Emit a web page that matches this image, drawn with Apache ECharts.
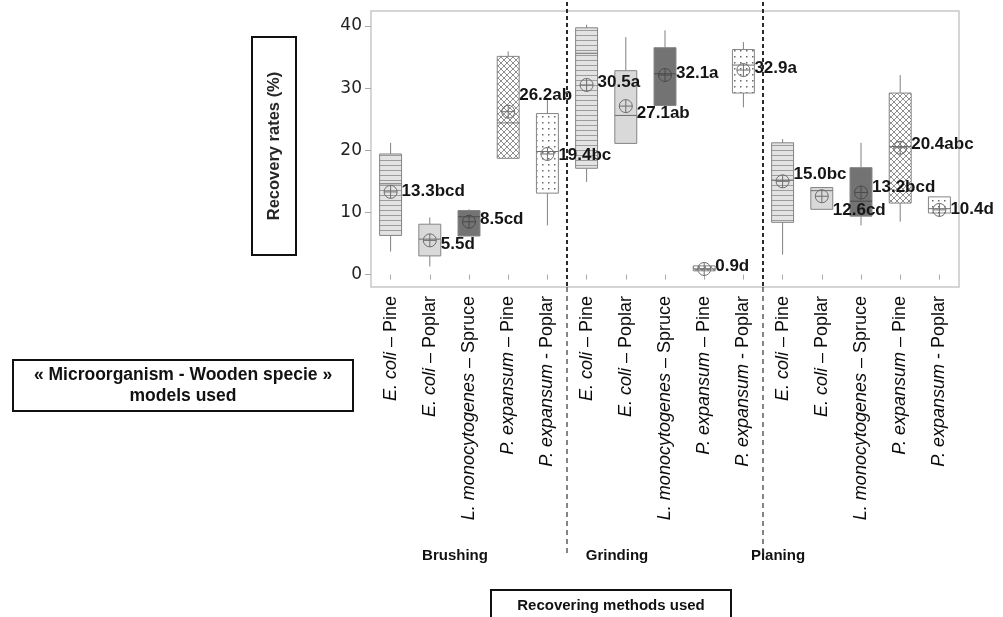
<!DOCTYPE html>
<html><head><meta charset="utf-8">
<script src="https://cdn.jsdelivr.net/npm/echarts@6/dist/echarts.min.js"></script>
<style>html,body{margin:0;padding:0;background:#fff}#c{width:1003px;height:617px}</style>
</head><body><div id="c"></div>
<script>
// ---------- data ----------
const methods = ['Brushing', 'Grinding', 'Planing'];
const microbes = ['E. coli', 'E. coli', 'L. monocytogenes', 'P. expansum', 'P. expansum'];
const woods = ['– Pine', '– Poplar', '– Spruce', '– Pine', '- Poplar'];
const whiskerLow  = [3.7, 1.3, 6.2, 18.7, 7.9,   14.9, 21.1, 27.0, 0.6, 26.9,   3.2, 10.5, 7.9, 8.5, 9.3];
const q1          = [6.3, 3.0, 6.2, 18.7, 13.1,  17.1, 21.1, 27.2, 0.6, 29.2,   8.4, 10.5, 9.4, 11.5, 9.9];
const median      = [14.6, 5.7, 9.3, 24.4, 19.8, 35.6, 25.6, 32.3, 0.9, 33.7,   15.2, 13.5, 11.8, 20.6, 10.6];
const q3          = [19.4, 8.1, 10.3, 35.1, 25.9, 39.7, 32.8, 36.5, 1.4, 36.2,  21.2, 14.0, 17.2, 29.2, 12.5];
const whiskerHigh = [21.2, 9.2, 10.5, 35.9, 28.1, 40.2, 38.2, 39.3, 1.4, 37.4,  21.8, 14.0, 21.2, 32.1, 12.5];
const means       = [13.3, 5.5, 8.5, 26.2, 19.4, 30.5, 27.1, 32.1, 0.9, 32.9,   15.0, 12.6, 13.2, 20.4, 10.4];
const letters     = ['bcd', 'd', 'cd', 'ab', 'bc', 'a', 'ab', 'a', 'd', 'a', 'bc', 'cd', 'bcd', 'abc', 'd'];
const yTicks = [0, 10, 20, 30, 40];

// ---------- styling helpers ----------
const labelShift = [-1, 4, -2, -16, 1, -3, 7, -2, -3, -2, -7, 14, -5, -3, -1];

function makeCanvas(w, h, draw) {
  const c = document.createElement('canvas');
  c.width = w; c.height = h;
  draw(c.getContext('2d'));
  return c;
}
const stripes = makeCanvas(4, 5, g => {
  g.fillStyle = '#e3e3e3'; g.fillRect(0, 0, 4, 5);
  g.fillStyle = '#9c9c9c'; g.fillRect(0, 0, 4, 1);
});
const cross = makeCanvas(6, 6, g => {
  g.fillStyle = '#ffffff'; g.fillRect(0, 0, 6, 6);
  g.strokeStyle = '#8e8e8e'; g.lineWidth = 1;
  g.beginPath(); g.moveTo(0, 0); g.lineTo(6, 6); g.moveTo(6, 0); g.lineTo(0, 6); g.stroke();
});
const dots = makeCanvas(6, 6, g => {
  g.fillStyle = '#ffffff'; g.fillRect(0, 0, 6, 6);
  g.fillStyle = '#6a6a6a'; g.fillRect(2, 2, 1.5, 1.5);
});
const fills = [
  { image: stripes, repeat: 'repeat' },
  '#d9d9d9',
  '#737373',
  { image: cross, repeat: 'repeat' },
  { image: dots, repeat: 'repeat' }
];

const categories = [];
methods.forEach(m => microbes.forEach((mi, j) => categories.push(m + '|' + j)));

const seriesData = categories.map((c, i) =>
  [i, whiskerLow[i], q1[i], median[i], q3[i], whiskerHigh[i], means[i]]);
const labelData = categories.map((c, i) => [i, means[i]]);

function renderBox(params, api) {
  const i = api.value(0);
  const x = api.coord([i, 0])[0];
  const Y = v => api.coord([i, v])[1];
  const bw = api.size([1, 0])[0] * 0.56;
  const yLo = Y(api.value(1)), yQ1 = Y(api.value(2)), yMed = Y(api.value(3));
  const yQ3 = Y(api.value(4)), yHi = Y(api.value(5)), yMean = Y(api.value(6));
  const j = i % 5;
  const r = 6.5;
  const sc = j === 2 ? '#4a4a4a' : '#6e6e6e';
  return {
    type: 'group',
    children: [
      { type: 'line', shape: { x1: x, y1: yHi, x2: x, y2: yQ3 }, style: { stroke: '#808080', lineWidth: 1 } },
      { type: 'line', shape: { x1: x, y1: yQ1, x2: x, y2: yLo }, style: { stroke: '#808080', lineWidth: 1 } },
      { type: 'rect', shape: { x: x - bw / 2, y: yQ3, width: bw, height: Math.max(yQ1 - yQ3, 2) },
        style: { fill: fills[j], stroke: '#858585', lineWidth: 1 } },
      { type: 'line', shape: { x1: x - bw / 2, y1: yMed, x2: x + bw / 2, y2: yMed }, style: { stroke: sc, lineWidth: 1 } },
      { type: 'circle', shape: { cx: x, cy: yMean, r: r }, style: { fill: null, stroke: sc, lineWidth: 1 } },
      { type: 'line', shape: { x1: x - r, y1: yMean, x2: x + r, y2: yMean }, style: { stroke: sc, lineWidth: 1 } },
      { type: 'line', shape: { x1: x, y1: yMean - r, x2: x, y2: yMean + r }, style: { stroke: sc, lineWidth: 1 } }
    ]
  };
}

function renderLabel(params, api) {
  const i = api.value(0);
  const p = api.coord([i, api.value(1)]);
  return {
    type: 'text', x: p[0] + 11, y: p[1] + labelShift[i],
    style: { text: means[i].toFixed(1) + letters[i], fill: '#151515',
      font: 'bold 17px "Liberation Sans", Arial, sans-serif',
      align: 'left', verticalAlign: 'middle', textAlign: 'left', textVerticalAlign: 'middle' }
  };
}

const chart = echarts.init(document.getElementById('c'), null, { renderer: 'canvas' });
const option = {
  animation: false,
  backgroundColor: '#ffffff',
  grid: { left: 371, top: 11, right: 44, bottom: 330, show: true, borderColor: '#c8c8c8', borderWidth: 1.5 },
  xAxis: {
    type: 'category',
    data: categories,
    boundaryGap: true,
    axisLine: { show: false },
    axisTick: { show: true, alignWithLabel: true, length: 5, lineStyle: { color: '#a8a8a8' } },
    splitLine: { show: false },
    axisLabel: {
      interval: 0, rotate: 90, margin: 9,
      formatter: (v, idx) => {
        const j = idx % 5;
        return '{i|' + microbes[j] + '}{n| ' + woods[j] + '}';
      },
      rich: {
        i: { fontStyle: 'italic', fontSize: 18, fontFamily: '"Liberation Sans", Arial, sans-serif', color: '#0a0a0a' },
        n: { fontSize: 18, fontFamily: '"Liberation Sans", Arial, sans-serif', color: '#0a0a0a' }
      }
    }
  },
  yAxis: {
    type: 'value', min: -2, max: 42.4,
    axisLine: { show: false },
    splitLine: { show: false },
    axisTick: { show: true, length: 6, customValues: yTicks, lineStyle: { color: '#a8a8a8' } },
    axisLabel: { customValues: yTicks, margin: 9, fontSize: 17, fontFamily: '"DejaVu Sans", sans-serif', color: '#222' }
  },
  series: [
    { type: 'custom', renderItem: renderBox, data: seriesData, clip: false, z: 5 },
    { type: 'custom', renderItem: renderLabel, data: labelData, clip: false, z: 10 }
  ]
};
chart.setOption(option);

// separators between method groups, placed from the category axis
const px = k => chart.convertToPixel({ xAxisIndex: 0 }, categories[k]);
const sep1 = (px(4) + px(5)) / 2;
const sep2 = (px(9) + px(10)) / 2;
const dashTop = { stroke: '#2a2a2a', lineWidth: 2, lineDash: [4, 3] };
const dashBot = { stroke: '#444', lineWidth: 1.3, lineDash: [5, 4] };
const boldFont = sz => 'bold ' + sz + 'px "Liberation Sans", Arial, sans-serif';

chart.setOption({
  graphic: [
    { type: 'line', z: 20, shape: { x1: sep1, y1: 2, x2: sep1, y2: 287 }, style: dashTop },
    { type: 'line', z: 20, shape: { x1: sep2, y1: 2, x2: sep2, y2: 287 }, style: dashTop },
    { type: 'line', z: 20, shape: { x1: sep1, y1: 287, x2: sep1, y2: 557 }, style: dashBot },
    { type: 'line', z: 20, shape: { x1: sep2, y1: 287, x2: sep2, y2: 557 }, style: dashBot },
    { type: 'text', x: 455, y: 556, style: { text: methods[0], font: boldFont(15), fill: '#111', align: 'center', verticalAlign: 'middle' } },
    { type: 'text', x: 617, y: 556, style: { text: methods[1], font: boldFont(15), fill: '#111', align: 'center', verticalAlign: 'middle' } },
    { type: 'text', x: 778, y: 556, style: { text: methods[2], font: boldFont(15), fill: '#111', align: 'center', verticalAlign: 'middle' } },
    // y axis title box
    { type: 'rect', shape: { x: 252, y: 37, width: 44, height: 218 }, style: { fill: '#fff', stroke: '#111', lineWidth: 2 } },
    { type: 'text', x: 274, y: 146, rotation: Math.PI / 2,
      style: { text: 'Recovery rates (%)', font: boldFont(16.5), fill: '#262626', align: 'center', verticalAlign: 'middle' } },
    // models box
    { type: 'rect', shape: { x: 13, y: 360, width: 340, height: 51 }, style: { fill: '#fff', stroke: '#111', lineWidth: 2 } },
    { type: 'text', x: 183, y: 386, style: { text: '« Microorganism - Wooden specie »\nmodels used', font: boldFont(17.5), lineHeight: 21, fill: '#111', align: 'center', verticalAlign: 'middle' } },
    // methods box
    { type: 'rect', shape: { x: 491, y: 590, width: 240, height: 40 }, style: { fill: '#fff', stroke: '#111', lineWidth: 2 } },
    { type: 'text', x: 611, y: 606, style: { text: 'Recovering methods used', font: boldFont(15), fill: '#111', align: 'center', verticalAlign: 'middle' } }
  ]
});
</script>
</body></html>
